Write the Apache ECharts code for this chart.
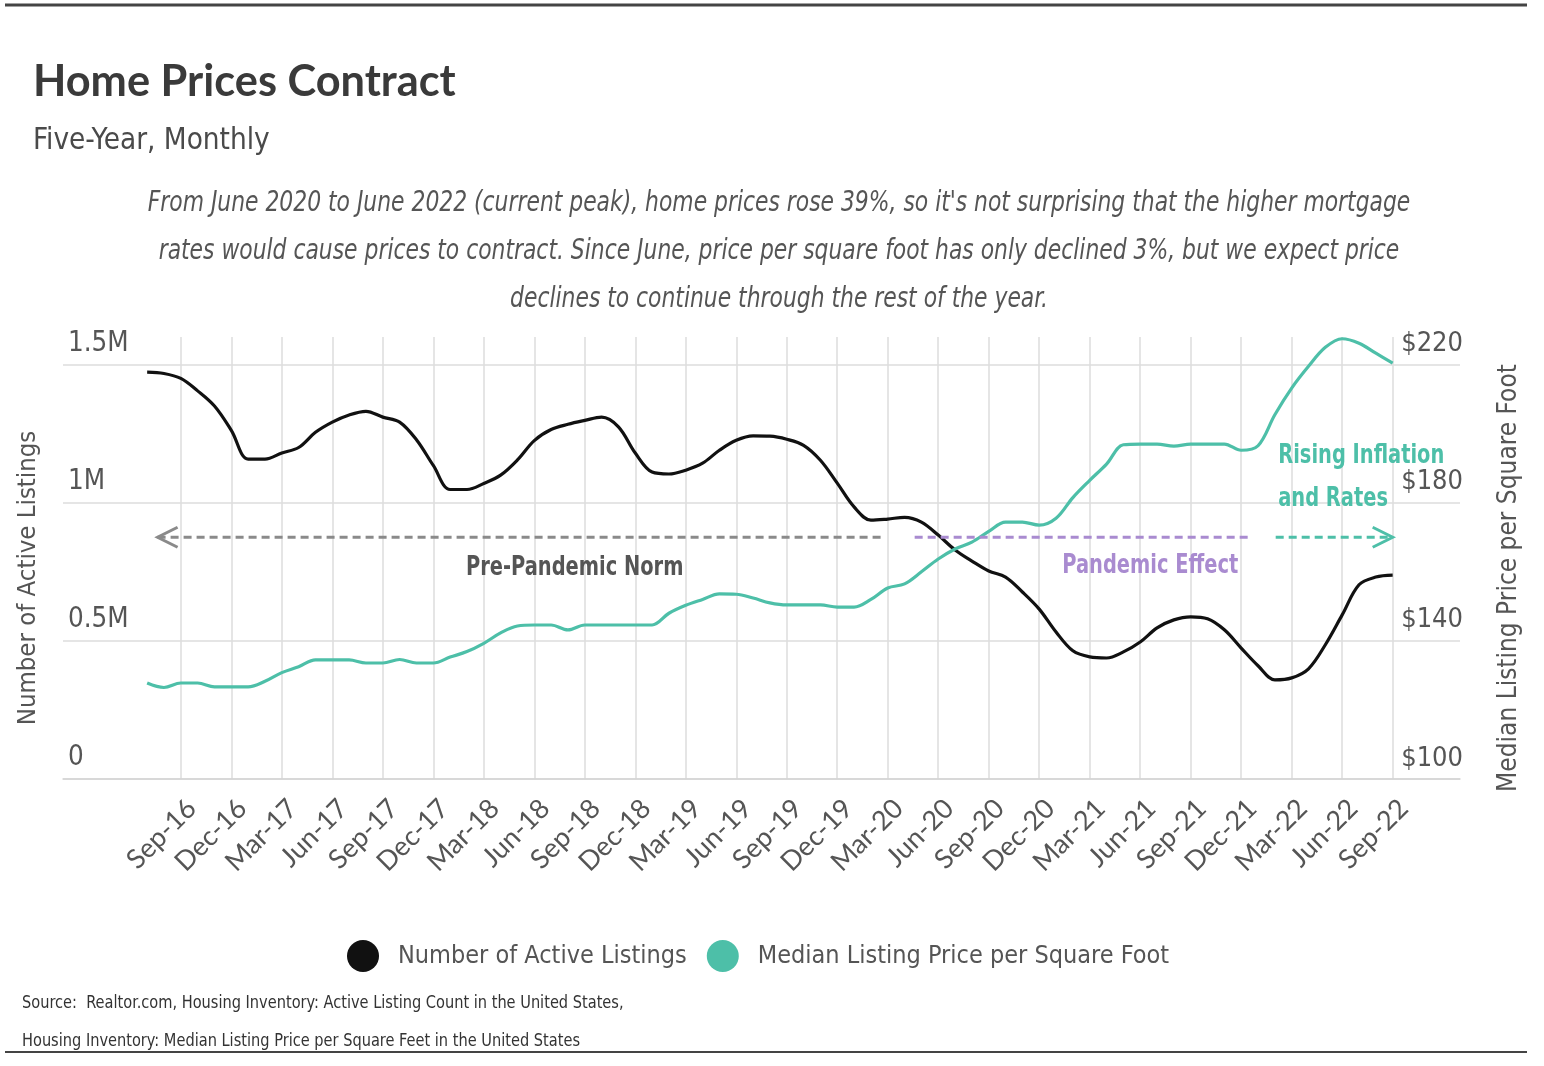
<!DOCTYPE html>
<html><head><meta charset="utf-8">
<script src="https://cdn.jsdelivr.net/npm/echarts@6/dist/echarts.min.js"></script>
<style>html,body{margin:0;padding:0;background:#fff}#chart{width:1544px;height:1066px}</style>
</head><body><div id="chart"></div>
<script>
const months = ['Jul-16','Aug-16','Sep-16','Oct-16','Nov-16','Dec-16',
 'Jan-17','Feb-17','Mar-17','Apr-17','May-17','Jun-17','Jul-17','Aug-17','Sep-17','Oct-17','Nov-17','Dec-17',
 'Jan-18','Feb-18','Mar-18','Apr-18','May-18','Jun-18','Jul-18','Aug-18','Sep-18','Oct-18','Nov-18','Dec-18',
 'Jan-19','Feb-19','Mar-19','Apr-19','May-19','Jun-19','Jul-19','Aug-19','Sep-19','Oct-19','Nov-19','Dec-19',
 'Jan-20','Feb-20','Mar-20','Apr-20','May-20','Jun-20','Jul-20','Aug-20','Sep-20','Oct-20','Nov-20','Dec-20',
 'Jan-21','Feb-21','Mar-21','Apr-21','May-21','Jun-21','Jul-21','Aug-21','Sep-21','Oct-21','Nov-21','Dec-21',
 'Jan-22','Feb-22','Mar-22','Apr-22','May-22','Jun-22','Jul-22','Aug-22','Sep-22'];
const activeListings = [1473000,1468000,1450000,1405000,1350000,1262000,
 1158000,1158000,1180000,1200000,1255000,1292000,1318000,1331000,1310000,1292000,1228000,1135000,
 1048000,1048000,1070000,1100000,1155000,1225000,1265000,1284000,1298000,1310000,1275000,1180000,
 1111000,1104000,1118000,1143000,1190000,1226000,1242000,1241000,1230000,1208000,1154000,1071000,
 985000,937000,941000,947000,930000,883000,829000,789000,753000,731000,677000,615000,
 532000,464000,442000,438000,460000,496000,547000,576000,587000,580000,540000,474000,
 410000,359000,366000,399000,486000,594000,703000,731000,738000];
const medianPricePerSqFt = [127.8,126.5,127.8,127.8,126.7,126.7,
 126.7,128.3,130.8,132.5,134.5,134.5,134.5,133.6,133.6,134.6,133.6,133.6,
 135.3,136.9,139.3,142.3,144.3,144.6,144.6,143.2,144.6,144.6,144.6,144.6,
 144.6,148.0,150.3,152.0,153.6,153.5,152.4,151.0,150.4,150.4,150.4,149.8,
 149.8,152.0,155.3,156.5,160.0,163.7,166.6,168.6,171.7,174.4,174.4,173.5,
 175.5,181.5,186.5,191.2,196.8,197.0,197.0,196.4,197.0,197.0,197.0,195.2,
 196.5,205.5,213.2,219.5,225.0,227.5,226.2,223.3,220.4];
const xTickLabels = ['Sep-16','Dec-16','Mar-17','Jun-17','Sep-17','Dec-17','Mar-18','Jun-18','Sep-18','Dec-18',
 'Mar-19','Jun-19','Sep-19','Dec-19','Mar-20','Jun-20','Sep-20','Dec-20','Mar-21','Jun-21','Sep-21','Dec-21',
 'Mar-22','Jun-22','Sep-22'];
const leftTicks = [0, 500000, 1000000, 1500000];
const leftTickLabels = ['0', '0.5M', '1M', '1.5M'];
const rightTicks = [100, 140, 180, 220];
const rightTickLabels = ['$100', '$140', '$180', '$220'];
const seriesNames = ['Number of Active Listings', 'Median Listing Price per Square Foot'];

const PAD_BEFORE = 5, PAD_AFTER = 4;
const axisCats = Array.from({length: PAD_BEFORE}, (_, i) => 'pre' + i)
  .concat(months, Array.from({length: PAD_AFTER}, (_, i) => 'post' + i));
const padData = arr => Array(PAD_BEFORE).fill(null).concat(arr, Array(PAD_AFTER).fill(null));

const NARROW = "'Liberation Sans Narrow','Arial Narrow','DejaVu Sans Condensed',sans-serif";
const BLACK = '#111111', TEAL = '#4dbfa8', PURPLE = '#a98bd0', GRAY = '#8a8a8a';

const chart = echarts.init(document.getElementById('chart'), null, {renderer: 'canvas'});

const baseOption = {
  backgroundColor: '#ffffff',
  animation: false,
  grid: {left: 63, right: 84, top: 337, bottom: 1066 - 779, containLabel: false, outerBoundsMode: 'none'},
  legend: {
    top: 935, left: 342, icon: 'circle', itemWidth: 32, itemHeight: 32, itemGap: 20,
    textStyle: {fontFamily: NARROW, fontSize: 25, color: '#555', padding: [0, 0, 0, 14]},
    data: seriesNames
  },
  xAxis: {
    type: 'category', data: axisCats, boundaryGap: false,
    axisLine: {show: true, lineStyle: {color: '#d4d4d4', width: 1.5}},
    axisTick: {show: false},
    splitLine: {show: true, interval: (i, v) => xTickLabels.includes(v), lineStyle: {color: '#dcdcdc', width: 1.5}},
    axisLabel: {
      interval: (i, v) => xTickLabels.includes(v), rotate: 45, margin: 14,
      verticalAlign: 'top', padding: [2, 0, 0, 0],
      fontFamily: 'Lato', fontSize: 27, color: '#555'
    }
  },
  yAxis: [{
    type: 'value', min: 0, max: 1600000, interval: 500000, position: 'left',
    name: 'Number of Active Listings', nameLocation: 'middle', nameRotate: 90, nameGap: 22, nameMoveOverlap: false,
    nameTextStyle: {fontFamily: NARROW, fontSize: 25.5, color: '#555', padding: [0, 40, 0, 0]},
    axisLine: {show: false}, axisTick: {show: false},
    splitLine: {show: true, showMaxLine: false, lineStyle: {color: '#dcdcdc', width: 1.5}},
    axisLabel: {
      inside: true, margin: 5, showMaxLabel: false, verticalAlign: 'bottom', padding: [0, 0, 7, 0],
      fontFamily: NARROW, fontSize: 27.5, color: '#555',
      formatter: v => { const k = leftTicks.indexOf(v); return k >= 0 ? leftTickLabels[k] : ''; }
    }
  }, {
    type: 'value', min: 100, max: 228, interval: 40, position: 'right',
    name: 'Median Listing Price per Square Foot', nameLocation: 'middle', nameRotate: 90, nameGap: 36, nameMoveOverlap: false,
    nameTextStyle: {fontFamily: NARROW, fontSize: 26, color: '#555', padding: [0, 40, 0, 0]},
    axisLine: {show: false}, axisTick: {show: false}, splitLine: {show: false},
    axisLabel: {
      inside: true, margin: -3, showMaxLabel: false, verticalAlign: 'bottom', padding: [0, 0, 7, 0],
      fontFamily: NARROW, fontSize: 27, color: '#555',
      formatter: v => { const k = rightTicks.indexOf(v); return k >= 0 ? rightTickLabels[k] : ''; }
    }
  }],
  series: [{
    name: seriesNames[0], type: 'line', yAxisIndex: 0, data: padData(activeListings),
    smooth: 0.35, showSymbol: false, symbol: 'none', clip: false,
    itemStyle: {color: BLACK}, lineStyle: {color: BLACK, width: 3.2}
  }, {
    name: seriesNames[1], type: 'line', yAxisIndex: 1, data: padData(medianPricePerSqFt),
    smooth: 0.35, showSymbol: false, symbol: 'none', clip: false,
    itemStyle: {color: TEAL}, lineStyle: {color: TEAL, width: 3.2}
  }]
};
chart.setOption(baseOption);

// pixel helper: fractional month index (0 = first month) on left-axis value
function px(i, v) {
  const a = chart.convertToPixel({xAxisIndex: 0, yAxisIndex: 0}, [PAD_BEFORE, v]);
  const b = chart.convertToPixel({xAxisIndex: 0, yAxisIndex: 0}, [PAD_BEFORE + 1, v]);
  return [a[0] + (b[0] - a[0]) * i, a[1]];
}
const annotV = 875000;
const g1 = px(0.62, annotV), g2 = px(43.7, annotV);
const p1 = px(45.6, annotV), p2 = px(65.6, annotV);
const t1 = px(67.05, annotV), t2 = px(74.0, annotV);
const lPre = px(25.4, 764000), lPan = px(59.6, 771000), lRise1 = px(67.2, 1168000), lRise2 = px(67.2, 1013000);

const dashLine = (a, b, color) => ({type: 'line', shape: {x1: a[0], y1: a[1], x2: b[0], y2: b[1]},
  style: {stroke: color, lineWidth: 3, lineDash: [8, 5]}, z: 50});
const chevron = (tip, dir, color) => ({type: 'polyline',
  shape: {points: [[tip[0] - dir * 20, tip[1] - 10], tip, [tip[0] - dir * 20, tip[1] + 10]]},
  style: {stroke: color, lineWidth: 3, fill: null}, z: 50});
const txt = (x, y, sx, style) => ({type: 'text', x: x, y: y, scaleX: sx, z: 50,
  style: Object.assign({x: 0, y: 0, textVerticalAlign: 'middle'}, style)});

chart.setOption({graphic: [
  {type: 'line', shape: {x1: 5, y1: 5, x2: 1527, y2: 5}, style: {stroke: '#444', lineWidth: 3}},
  {type: 'line', shape: {x1: 5, y1: 1052, x2: 1527, y2: 1052}, style: {stroke: '#444', lineWidth: 2}},
  txt(33, 82, 0.985, {text: 'Home Prices Contract', font: "bold 44px 'Lato', sans-serif", fill: '#3a3a3a'}),
  txt(33, 141, 0.98, {text: 'Five-Year, Monthly', font: "30px " + NARROW, fill: '#4a4a4a'}),
  txt(779, 204, 0.868, {textAlign: 'center', lineHeight: 48, textVerticalAlign: 'top', y: -24,
    text: "From June 2020 to June 2022 (current peak), home prices rose 39%, so it's not surprising that the higher mortgage\nrates would cause prices to contract. Since June, price per square foot has only declined 3%, but we expect price\ndeclines to continue through the rest of the year.",
    font: "italic 28px " + NARROW, fill: '#555'}),
  txt(22, 1003, 0.9, {text: 'Source:  Realtor.com, Housing Inventory: Active Listing Count in the United States,',
    font: "18px " + NARROW, fill: '#333'}),
  txt(22, 1041, 0.9, {text: 'Housing Inventory: Median Listing Price per Square Feet in the United States',
    font: "18px " + NARROW, fill: '#333'}),
  dashLine(g1, g2, GRAY), chevron(g1, -1, GRAY),
  dashLine(p1, p2, PURPLE),
  dashLine(t1, [t2[0] - 2, t2[1]], TEAL), chevron(t2, 1, TEAL),
  txt(lPre[0], lPre[1], 0.8, {text: 'Pre-Pandemic Norm', textAlign: 'center', font: "bold 27px " + NARROW, fill: '#555'}),
  txt(lPan[0], lPan[1], 0.8, {text: 'Pandemic Effect', textAlign: 'center', font: "bold 27px " + NARROW, fill: PURPLE}),
  txt(lRise1[0], lRise1[1], 0.8, {text: 'Rising Inflation', font: "bold 27px " + NARROW, fill: TEAL}),
  txt(lRise2[0], lRise2[1], 0.8, {text: 'and Rates', font: "bold 27px " + NARROW, fill: TEAL})
]});
</script></body></html>
